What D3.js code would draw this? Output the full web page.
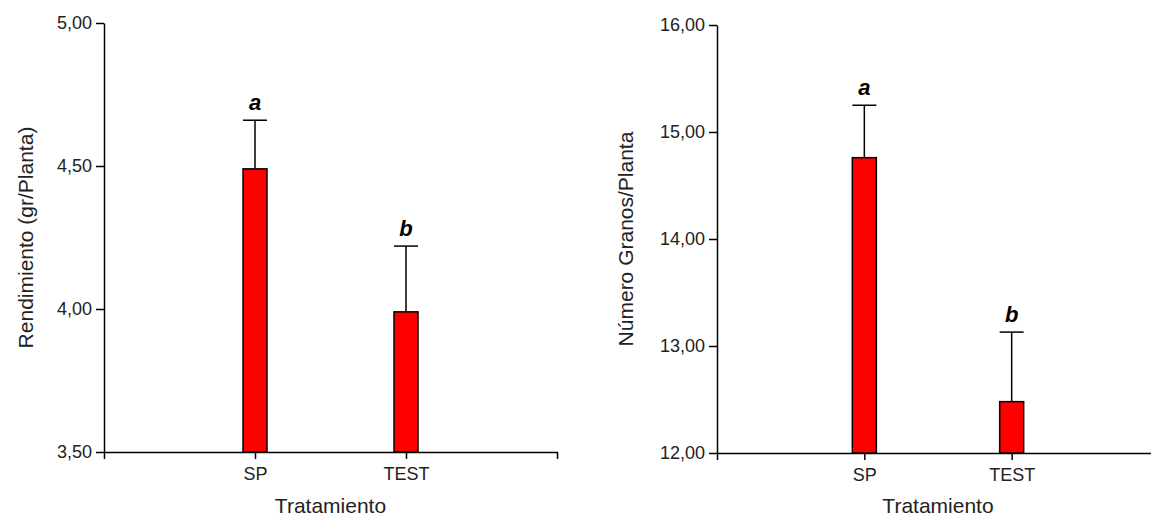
<!DOCTYPE html>
<html>
<head>
<meta charset="utf-8">
<script src="https://cdn.jsdelivr.net/npm/d3@7"></script>
<style>
  body { margin: 0; background: #fff; }
  svg { display: block; font-family: "Liberation Sans", Arial, sans-serif; }
  .axis path, .axis line { stroke: #000; stroke-width: 1.5px; }
  .axis text { font-size: 18px; fill: #222; font-family: "Liberation Sans", Arial, sans-serif; }
</style>
</head>
<body>
<div id="chart"></div>
<script>
// Data
const treatments = ["SP", "TEST"];
const yieldMeans = [4.49, 3.99];
const yieldErrors = [0.17, 0.23];
const yieldLetters = ["a", "b"];
const yieldTicks = [3.5, 4.0, 4.5, 5.0];

const grainMeans = [14.76, 12.48];
const grainErrors = [0.49, 0.65];
const grainLetters = ["a", "b"];
const grainTicks = [12, 13, 14, 15, 16];

const locale = d3.formatLocale({ decimal: ",", thousands: ".", grouping: [3], currency: ["", ""] });
const fmt = locale.format(".2f");

const svg = d3.select("#chart")
              .append("svg")
              .attr("width", 1151)
              .attr("height", 518);

function drawPanel(opts) {
    const g = svg.append("g");

    const x = d3.scalePoint()
                .domain(treatments)
                .range([opts.left, opts.right])
                .padding(1);

    const y = d3.scaleLinear()
                .domain(d3.extent(opts.ticks))
                .range([opts.bottom, opts.top]);

    // X axis
    g.append("g")
     .attr("class", "axis")
     .attr("transform", `translate(0,${opts.bottom})`)
     .call(d3.axisBottom(x).tickSizeInner(7).tickSizeOuter(7).tickPadding(8))
     .selectAll("text")
     .attr("dy", "0.71em");

    // Y axis
    g.append("g")
     .attr("class", "axis")
     .attr("transform", `translate(${opts.left},0)`)
     .call(d3.axisLeft(y).tickValues(opts.ticks).tickFormat(fmt)
             .tickSizeInner(8).tickSizeOuter(0).tickPadding(4));

    const barW = 24;
    const data = treatments.map((t, i) => ({ t, m: opts.means[i], e: opts.errors[i], l: opts.letters[i] }));

    // Error bars
    g.selectAll(".err")
     .data(data)
     .enter()
     .append("line")
     .attr("x1", d => x(d.t)).attr("x2", d => x(d.t))
     .attr("y1", d => y(d.m)).attr("y2", d => y(d.m + d.e))
     .attr("stroke", "#000").attr("stroke-width", 1.5);

    g.selectAll(".cap")
     .data(data)
     .enter()
     .append("line")
     .attr("x1", d => x(d.t) - barW / 2).attr("x2", d => x(d.t) + barW / 2)
     .attr("y1", d => y(d.m + d.e)).attr("y2", d => y(d.m + d.e))
     .attr("stroke", "#000").attr("stroke-width", 1.5);

    // Bars
    g.selectAll(".bar")
     .data(data)
     .enter()
     .append("rect")
     .attr("x", d => x(d.t) - barW / 2)
     .attr("y", d => y(d.m))
     .attr("width", barW)
     .attr("height", d => opts.bottom - y(d.m))
     .attr("fill", "#ff0000")
     .attr("stroke", "#000")
     .attr("stroke-width", 1.5);

    // Significance letters
    g.selectAll(".letter")
     .data(data)
     .enter()
     .append("text")
     .attr("x", d => x(d.t))
     .attr("y", d => y(d.m + d.e) - 10)
     .attr("text-anchor", "middle")
     .style("font-size", "22px")
     .style("font-weight", "bold")
     .style("font-style", "italic")
     .text(d => d.l);

    // Axis titles
    g.append("text")
     .attr("x", (opts.left + opts.right) / 2)
     .attr("y", 513)
     .attr("text-anchor", "middle")
     .attr("fill", "#222")
     .style("font-size", "21px")
     .text("Tratamiento");

    g.append("text")
     .attr("transform", `translate(${opts.left - opts.titleOffset},${(opts.top + opts.bottom) / 2}) rotate(-90)`)
     .attr("text-anchor", "middle")
     .attr("fill", "#222")
     .style("font-size", "21px")
     .text(opts.ylabel);
}

drawPanel({ left: 104, right: 557, top: 23, bottom: 452, titleOffset: 71,
            means: yieldMeans, errors: yieldErrors, letters: yieldLetters,
            ticks: yieldTicks, ylabel: "Rendimiento (gr/Planta)" });

drawPanel({ left: 717, right: 1159, top: 25, bottom: 453, titleOffset: 84,
            means: grainMeans, errors: grainErrors, letters: grainLetters,
            ticks: grainTicks, ylabel: "Número Granos/Planta" });
</script>
</body>
</html>
